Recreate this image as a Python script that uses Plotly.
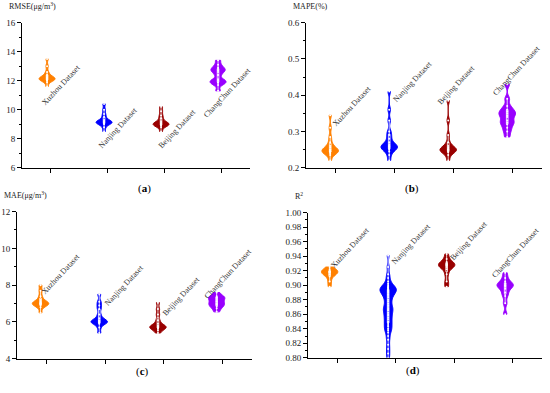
import plotly.graph_objects as go

datasets = ["Xuzhou Dataset", "Nanjing Dataset", "Beijing Dataset", "ChangChun Dataset"]
colors = ["#FF8000", "#0000FF", "#990000", "#9900FF"]

# (a) RMSE samples
rmse_xuzhou = [11.6, 11.9, 12.0, 12.05, 12.1, 12.1, 12.15, 12.2, 12.2, 12.3, 12.4, 12.6, 13.0, 13.5]
rmse_nanjing = [8.5, 8.8, 9.0, 9.05, 9.1, 9.1, 9.15, 9.2, 9.2, 9.3, 9.5, 9.7, 10.0, 10.4]
rmse_beijing = [8.5, 8.8, 8.9, 8.95, 9.0, 9.0, 9.05, 9.1, 9.2, 9.4, 9.6, 9.9, 10.2]
rmse_changchun = [11.3, 11.7, 11.85, 11.9, 12.0, 12.1, 12.4, 12.6, 12.7, 12.8, 12.9, 13.1, 13.4]

# (b) MAPE samples
mape_xuzhou = [0.22, 0.235, 0.24, 0.243, 0.245, 0.245, 0.248, 0.25, 0.25, 0.255, 0.26, 0.27, 0.285, 0.31, 0.345]
mape_nanjing = [0.22, 0.235, 0.245, 0.25, 0.253, 0.255, 0.258, 0.26, 0.26, 0.265, 0.27, 0.28, 0.29,
                0.30, 0.33, 0.36, 0.41]
mape_beijing = [0.22, 0.235, 0.243, 0.245, 0.248, 0.25, 0.25, 0.252, 0.255, 0.26, 0.27, 0.29, 0.33, 0.385]
mape_changchun = [0.285, 0.30, 0.31, 0.32, 0.325, 0.33, 0.34, 0.345, 0.35, 0.355, 0.36, 0.37, 0.39, 0.43]

# (c) MAE samples
mae_xuzhou = [6.5, 6.8, 6.9, 6.95, 7.0, 7.0, 7.05, 7.1, 7.2, 7.4, 7.7, 8.0]
mae_nanjing = [5.4, 5.7, 5.9, 5.95, 6.0, 6.0, 6.05, 6.1, 6.2, 6.4, 6.7, 6.9, 7.1, 7.5]
mae_beijing = [5.4, 5.55, 5.65, 5.7, 5.7, 5.75, 5.8, 5.9, 6.1, 6.4, 6.7, 7.05]
mae_changchun = [6.55, 6.75, 6.85, 6.95, 7.0, 7.1, 7.2, 7.3, 7.35, 7.4, 7.6]

# (d) R2 samples
r2_xuzhou = [0.898, 0.905, 0.912, 0.915, 0.917, 0.918, 0.918, 0.919, 0.92, 0.922, 0.925]
r2_nanjing = [0.80, 0.806, 0.812, 0.818, 0.825, 0.83, 0.835, 0.838, 0.84, 0.843, 0.845, 0.848,
              0.85, 0.853, 0.855, 0.858, 0.86, 0.862, 0.865, 0.866, 0.868, 0.87, 0.872, 0.875, 0.878,
              0.88, 0.883, 0.885, 0.887, 0.888, 0.89, 0.891, 0.892, 0.893, 0.894, 0.895, 0.896,
              0.897, 0.898, 0.90, 0.902, 0.905, 0.91, 0.915, 0.925, 0.941]
r2_beijing = [0.898, 0.905, 0.915, 0.922, 0.925, 0.927, 0.928, 0.928, 0.93, 0.932, 0.936, 0.943]
r2_changchun = [0.86, 0.875, 0.885, 0.89, 0.895, 0.898, 0.9, 0.9, 0.902, 0.905, 0.91, 0.917]

panels = [
    dict(samples=[rmse_xuzhou, rmse_nanjing, rmse_beijing, rmse_changchun], bw=0.14,
         yrange=[6, 16], dtick=2, fmt=None, title="RMSE(μg/m<sup>3</sup>)", tag="a",
         dom_x=[0.040, 0.4545], dom_y=[0.575, 0.954], tick_off=0.06,
         lab_y=[11.7, 8.75, 8.7, 11.17], lab_dx=[10, 11, 13, 6]),
    dict(samples=[mape_xuzhou, mape_nanjing, mape_beijing, mape_changchun], bw=0.008,
         yrange=[0.2, 0.6], dtick=0.1, fmt=".1f", title="MAPE(%)", tag="b",
         dom_x=[0.5564, 0.9855], dom_y=[0.575, 0.954], tick_off=0.09,
         lab_y=[0.369, 0.439, 0.428, 0.468], lab_dx=[16, 18, 2, 4]),
    dict(samples=[mae_xuzhou, mae_nanjing, mae_beijing, mae_changchun], bw=0.12,
         yrange=[4, 12], dtick=2, fmt=None, title="MAE(μg/m<sup>3</sup>)", tag="c",
         dom_x=[0.031, 0.458], dom_y=[0.0763, 0.4606], tick_off=0.10,
         lab_y=[8.61, 7.98, 7.4, 8.61], lab_dx=[15, 19, 17, 6]),
    dict(samples=[r2_xuzhou, r2_nanjing, r2_beijing, r2_changchun], bw=0.004,
         yrange=[0.8, 1.0], dtick=0.02, fmt=".2f", title="R<sup>2</sup>", tag="d",
         dom_x=[0.56, 0.9855], dom_y=[0.0789, 0.458], tick_off=0.13,
         lab_y=[0.952, 0.957, 0.961, 0.945], lab_dx=[13, 16, 15, 3]),
]

SERIF = "Liberation Serif"
fig = go.Figure()
annotations = []
for p_i, p in enumerate(panels):
    n = "" if p_i == 0 else str(p_i + 1)
    xa, ya = "x" + n, "y" + n
    s = p["tick_off"]
    for i, vals in enumerate(p["samples"]):
        fig.add_trace(go.Violin(
            x=[i] * len(vals), y=vals, xaxis=xa, yaxis=ya,
            width=0.28, scalemode="width", spanmode="hard", bandwidth=p["bw"],
            fillcolor=colors[i], line=dict(color=colors[i], width=1), opacity=1,
            points="all", pointpos=0, jitter=0,
            marker=dict(color="white", size=2, line=dict(width=0)),
            box=dict(visible=True, width=0.1, fillcolor=colors[i],
                     line=dict(color="white", width=0.8)),
            meanline=dict(visible=False), showlegend=False, hoverinfo="y"))
        annotations.append(dict(
            x=i + s, y=p["lab_y"][i], xref=xa, yref=ya, xshift=p["lab_dx"][i],
            text=datasets[i], showarrow=False, textangle=-47,
            font=dict(family=SERIF, size=8, color="#333333")))
    axis_x = dict(domain=p["dom_x"], range=[-0.5 + s, 3.5 + s],
                  tickvals=[i + s for i in range(4)],
                  showticklabels=False, ticks="outside", ticklen=4,
                  tickcolor="black", showline=True, linecolor="black", linewidth=1,
                  showgrid=False, zeroline=False, anchor=ya)
    axis_y = dict(domain=p["dom_y"], range=p["yrange"], dtick=p["dtick"],
                  ticks="outside", ticklen=4, tickcolor="black",
                  minor=dict(ticks="outside", ticklen=2, tickcolor="black",
                             dtick=p["dtick"] / 2),
                  showline=True, linecolor="black", linewidth=1, showgrid=False,
                  zeroline=False, anchor=xa,
                  tickfont=dict(family=SERIF, size=9, color="#222222"))
    if p["fmt"]:
        axis_y["tickformat"] = p["fmt"]
    fig.layout["xaxis" + n] = axis_x
    fig.layout["yaxis" + n] = axis_y
    annotations.append(dict(
        x=p["dom_x"][0] - 0.028, y=p["dom_y"][1] + 0.025, xref="paper", yref="paper",
        xanchor="left", yanchor="bottom", text=p["title"], showarrow=False,
        font=dict(family=SERIF, size=8, color="#222222")))
    annotations.append(dict(
        x=(p["dom_x"][0] + p["dom_x"][1]) / 2 + (0.0 if p_i % 2 == 0 else -0.005),
        y=p["dom_y"][0] - 0.055, xref="paper", yref="paper",
        text="(<b>" + p["tag"] + "</b>)", showarrow=False,
        font=dict(family=SERIF, size=11, color="black")))

fig.update_layout(
    width=550, height=393, margin=dict(l=0, r=0, t=0, b=0),
    paper_bgcolor="white", plot_bgcolor="white", violinmode="overlay",
    annotations=annotations, showlegend=False)

fig.write_html("out.html", config={"displayModeBar": False},
               post_script="document.body.style.margin='0';document.body.style.padding='0';")
